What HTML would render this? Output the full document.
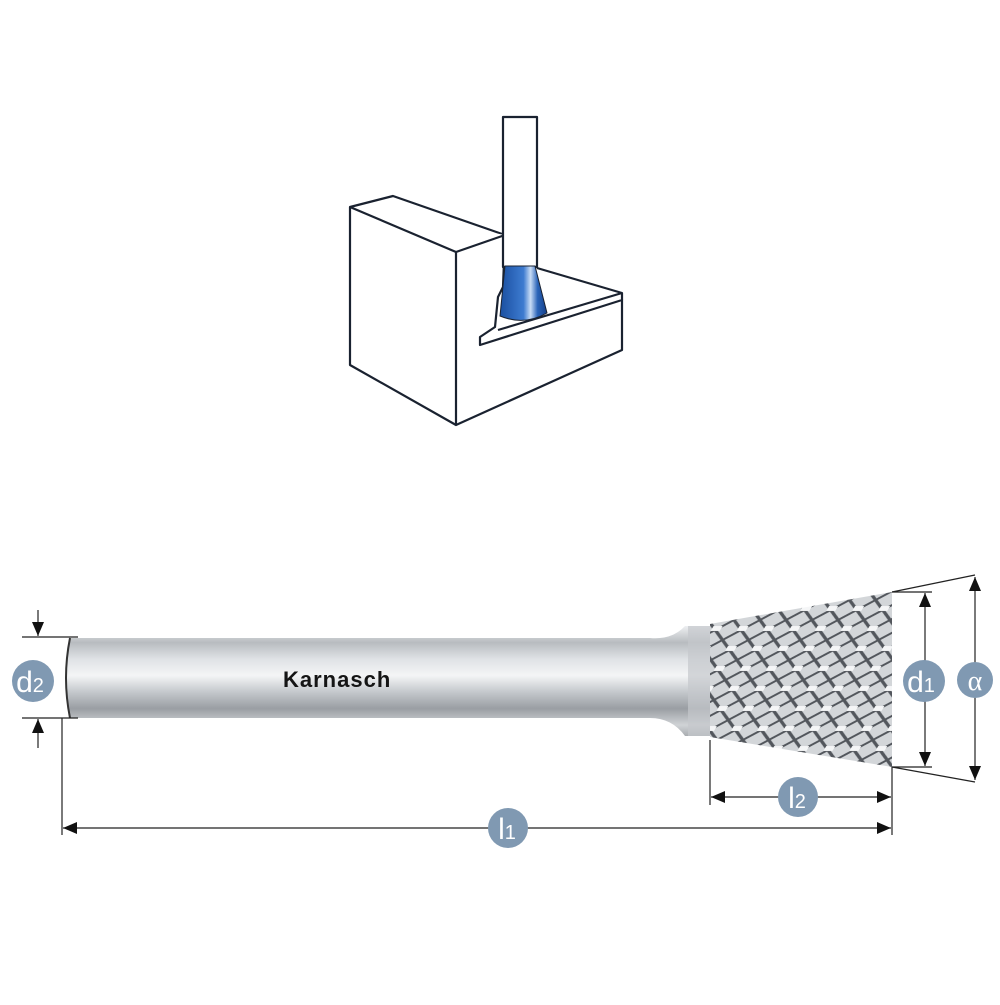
<!DOCTYPE html>
<html><head><meta charset="utf-8"><style>html,body{margin:0;padding:0;background:#fff}</style></head>
<body>
<svg width="1000" height="1000" viewBox="0 0 1000 1000" xmlns="http://www.w3.org/2000/svg" font-family="Liberation Sans, sans-serif">
<defs>
<linearGradient id="sh" x1="0" y1="0" x2="0" y2="1">
<stop offset="0" stop-color="#eef0f2"/><stop offset="0.15" stop-color="#b8bcc0"/><stop offset="0.3" stop-color="#dfe2e5"/><stop offset="0.45" stop-color="#f4f5f6"/><stop offset="0.6" stop-color="#c4c8cc"/><stop offset="0.75" stop-color="#9a9ea3"/><stop offset="0.9" stop-color="#d0d3d6"/><stop offset="1" stop-color="#a8acb0"/>
</linearGradient>
<linearGradient id="bl" x1="0" y1="0" x2="1" y2="0">
<stop offset="0" stop-color="#1a4fa0"/><stop offset="0.5" stop-color="#3d7bd0"/><stop offset="0.65" stop-color="#c8dcf5"/><stop offset="0.8" stop-color="#2a63b8"/><stop offset="1" stop-color="#143f88"/>
</linearGradient>
<pattern id="kn" width="26" height="20" patternUnits="userSpaceOnUse" patternTransform="skewX(-30)">
<rect width="26" height="20" fill="#d3d6d9"/>
<path d="M0 0L26 20M26 0L0 20" stroke="#52565c" stroke-width="2.5"/>
<rect x="9" y="6" width="9" height="5" fill="#f5f6f7"/>
</pattern>
<marker id="a" viewBox="0 0 14 12" refX="14" refY="6" markerWidth="14" markerHeight="12" markerUnits="userSpaceOnUse" orient="auto"><path d="M0 0L14 6L0 12Z" fill="#111"/></marker>
</defs>
<g fill="#fff" stroke="#1a2230" stroke-width="2.2" stroke-linejoin="round">
<path d="M350 207L393 196L505 235L503 287L498 297L495 327L480 337L480 345L622 300L622 350L456 425L350 365Z"/>
<path d="M350 207L456 252L505 235"/>
<path d="M456 252L456 425"/>
<path d="M537 268L622 293L622 300"/>
<path d="M498 330L622 293"/>
<rect x="503" y="117" width="34" height="150"/>
</g>
<path d="M505 266L535 266L547 313Q524 326 500 316Z" fill="url(#bl)" stroke="#1a2230" stroke-width="1"/>
<path d="M70 638L650 638Q672 640 685 626L712 626L712 736L685 736Q672 718 650 718L70 718Q62 678 70 638Z" fill="url(#sh)"/>
<path d="M70 638Q62 678 70 718" fill="none" stroke="#333" stroke-width="2"/>
<path d="M688 626L712 626L712 736L688 736Z" fill="#c5c8cc" opacity="0.7"/>
<path d="M710 624L892 592L892 767L710 737Z" fill="url(#kn)"/>
<text x="283" y="687" font-size="22" font-weight="bold" fill="#151515" letter-spacing="1">Karnasch</text>
<g stroke="#222" stroke-width="1.2" fill="none">
<line x1="22" y1="637" x2="78" y2="637"/><line x1="22" y1="718" x2="78" y2="718"/>
<line x1="38" y1="610" x2="38" y2="636" marker-end="url(#a)"/>
<line x1="38" y1="748" x2="38" y2="719" marker-end="url(#a)"/>
<line x1="62" y1="718" x2="62" y2="835"/>
<line x1="710" y1="740" x2="710" y2="805"/>
<line x1="892" y1="767" x2="892" y2="835"/>
<line x1="892" y1="592" x2="932" y2="592"/><line x1="892" y1="767" x2="932" y2="767"/>
<line x1="892" y1="592" x2="975" y2="575"/><line x1="892" y1="767" x2="975" y2="782"/>
<line x1="925" y1="680" x2="925" y2="593" marker-end="url(#a)"/>
<line x1="925" y1="680" x2="925" y2="766" marker-end="url(#a)"/>
<line x1="975" y1="680" x2="975" y2="577" marker-end="url(#a)"/>
<line x1="975" y1="680" x2="975" y2="780" marker-end="url(#a)"/>
<line x1="800" y1="797" x2="711" y2="797" marker-end="url(#a)"/>
<line x1="800" y1="797" x2="891" y2="797" marker-end="url(#a)"/>
<line x1="500" y1="828" x2="63" y2="828" marker-end="url(#a)"/>
<line x1="500" y1="828" x2="891" y2="828" marker-end="url(#a)"/>
</g>
<g fill="#8099b2">
<circle cx="33" cy="681" r="21"/><circle cx="924" cy="681" r="21"/><circle cx="975" cy="680" r="18"/>
<circle cx="798" cy="797" r="20"/><circle cx="508" cy="828" r="20"/>
</g>
<g fill="#fff" font-size="30" text-anchor="middle">
<text x="30" y="692">d<tspan font-size="20">2</tspan></text>
<text x="921" y="692">d<tspan font-size="20">1</tspan></text>
<text x="975" y="690" font-family="Liberation Serif, serif" font-size="28">α</text>
<text x="797" y="808">l<tspan font-size="20">2</tspan></text>
<text x="507" y="839">l<tspan font-size="20">1</tspan></text>
</g>
</svg>
</body></html>
